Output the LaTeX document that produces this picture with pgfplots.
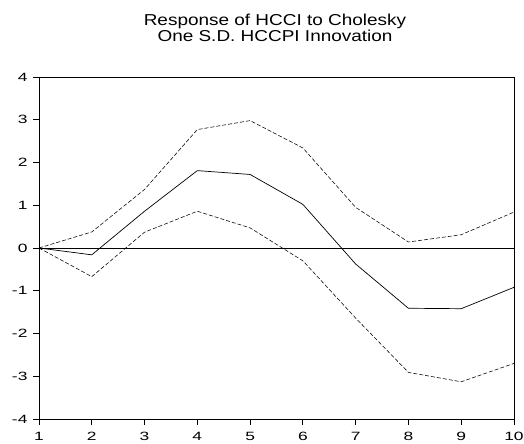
\documentclass[border=0pt]{standalone}
\usepackage{pgfplots}
\pgfplotsset{compat=1.18}
\usepackage{fontspec}
\setmainfont{Liberation Sans}
\newfontfamily\titlefont[FakeStretch=1.2]{Liberation Sans}
\newfontfamily\tickfont[FakeStretch=1.45]{Liberation Sans}
\usetikzlibrary{calc}

\begin{document}
\begin{tikzpicture}[x=1pt,y=1pt]
	\begin{axis}[
		name=irf,
		scale only axis,
		width=475pt, height=342pt,
		xmin=1, xmax=10,
		ymin=-4, ymax=4,
		xtick={1,...,10},
		ytick={-4,...,4},
		axis line style={line width=0.9pt},
		tick style={black, line width=0.8pt},
		tick align=outside,
		xtick pos=bottom, ytick pos=left,
		major tick length=6pt,
		tick label style={font=\tickfont\fontsize{12}{12}\selectfont},
		/pgf/number format/assume math mode=true,
		xticklabel style={yshift=-4pt},
		yticklabel style={xshift=-2pt},
		clip=false
	]
		% zero line
		\addplot[black, line width=0.6pt] coordinates {(1,0) (10,0)};

		% upper band
		\addplot[black, line width=0.55pt, dash pattern=on 4pt off 2pt] coordinates {
			(1,0) (2,0.375) (3,1.37) (4,2.77) (5,2.98)
			(6,2.34) (7,0.95) (8,0.14) (9,0.31) (10,0.84)
		};

		% response
		\addplot[black, line width=0.7pt] coordinates {
			(1,0) (2,-0.16) (3,0.86) (4,1.81) (5,1.72)
			(6,1.02) (7,-0.375) (8,-1.41) (9,-1.42) (10,-0.92)
		};

		% lower band
		\addplot[black, line width=0.55pt, dash pattern=on 4pt off 2pt] coordinates {
			(1,0) (2,-0.67) (3,0.37) (4,0.86) (5,0.47)
			(6,-0.30) (7,-1.64) (8,-2.91) (9,-3.13) (10,-2.70)
		};
	\end{axis}

	\node[font=\titlefont\fontsize{15.8}{16}\selectfont, anchor=base]
		at ($(irf.north west)+(236pt,51pt)$) {Response of HCCI to Cholesky};
	\node[font=\titlefont\fontsize{15.8}{16}\selectfont, anchor=base]
		at ($(irf.north west)+(236pt,35pt)$) {One S.D. HCCPI Innovation};

	\pgfresetboundingbox
	\path[use as bounding box] ($(irf.south west)+(-39pt,-25pt)$) rectangle ($(irf.north east)+(10pt,77pt)$);
\end{tikzpicture}
\end{document}
